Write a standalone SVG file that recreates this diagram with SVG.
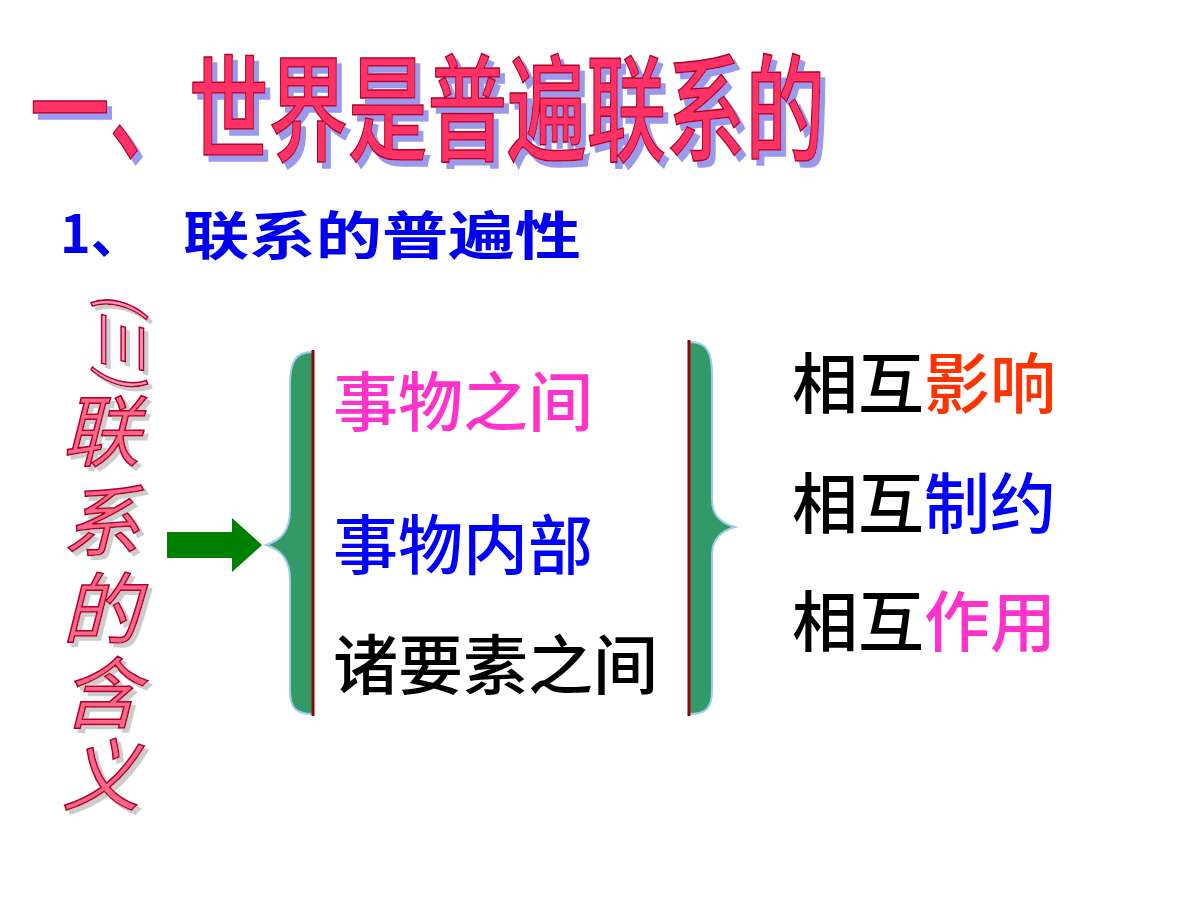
<svg xmlns="http://www.w3.org/2000/svg" width="1200" height="900" viewBox="0 0 1200 900">
<defs>
<filter id="shadow" x="-5%" y="-30%" width="115%" height="170%">
<feOffset in="SourceAlpha" dx="5" dy="6" result="o"/>
<feFlood flood-color="#9999ee"/>
<feComposite in2="o" operator="in" result="s"/>
<feMerge><feMergeNode in="s"/><feMergeNode in="SourceGraphic"/></feMerge>
</filter>
<filter id="shadow2" x="-30%" y="-10%" width="170%" height="130%">
<feOffset in="SourceAlpha" dx="4" dy="4" result="o"/>
<feFlood flood-color="#cccccc"/>
<feComposite in2="o" operator="in" result="s"/>
<feMerge><feMergeNode in="s"/><feMergeNode in="SourceGraphic"/></feMerge>
</filter>
</defs>
<style>
.cjk{font-family:"Noto Sans CJK SC","Noto Sans",sans-serif}
.art{fill:#ff3366;stroke:#b0002a;stroke-width:1.5}
.mid{font-size:65px;font-weight:500}
.rt{font-size:66px;font-weight:500}
</style>
<rect width="1200" height="900" fill="#fff"/>
<g id="title" class="cjk" filter="url(#shadow)">
<text class="art" x="30" y="152" font-size="116" font-weight="500" textLength="795" lengthAdjust="spacingAndGlyphs">一、世界是普遍联系的</text>
</g>
<g id="subtitle" class="cjk" fill="#0000ee" font-weight="bold" font-size="52">
<text x="60" y="253">1、</text>
<text x="183" y="255" textLength="398" lengthAdjust="spacingAndGlyphs">联系的普遍性</text>
</g>
<g id="vertical" class="cjk" font-size="78" font-style="italic" filter="url(#shadow2)">
<g transform="translate(110,330) rotate(90)"><text x="-38" y="8" class="art" style="fill:#ff99bb" font-size="56">(三)</text></g>
<g class="art" style="fill:#ff6688"><text x="62" y="460">联</text><text x="62" y="550">系</text><text x="62" y="638">的</text><text x="62" y="722">含</text><text x="62" y="804">义</text></g>
</g>
<g id="connectors">
<path d="M167,532 H232 V518 L262,545 L232,572 V558 H167 Z" fill="#008000"/>
</g>
<g id="leftBrace">
<path d="M313,352 C295,352 290,362 290,385 V510 C290,530 282,540 266,545 C282,550 290,560 290,580 V690 C290,708 296,714 313,714 Z" fill="#339966" stroke="#99ccee" stroke-width="2"/>
<line x1="313" y1="350" x2="313" y2="716" stroke="#990000" stroke-width="3"/>
</g>
<g id="rightBrace">
<path d="M689,342 C707,342 712,352 712,375 V500 C712,515 720,523 735,527 C720,531 712,540 712,555 V690 C712,708 706,714 689,714 Z" fill="#339966" stroke="#99ccee" stroke-width="2"/>
<line x1="689" y1="340" x2="689" y2="716" stroke="#990000" stroke-width="3"/>
</g>
<g id="middle" class="cjk mid">
<text x="333" y="426" fill="#ff33cc">事物之间</text>
<text x="333" y="569" fill="#0000ff">事物内部</text>
<text x="333" y="689" fill="#000">诸要素之间</text>
</g>
<g id="right" class="cjk rt">
<text x="792" y="408">相互<tspan fill="#ff3300">影响</tspan></text>
<text x="792" y="528">相互<tspan fill="#0000ff">制约</tspan></text>
<text x="792" y="646">相互<tspan fill="#ff33cc">作用</tspan></text>
</g>
</svg>
